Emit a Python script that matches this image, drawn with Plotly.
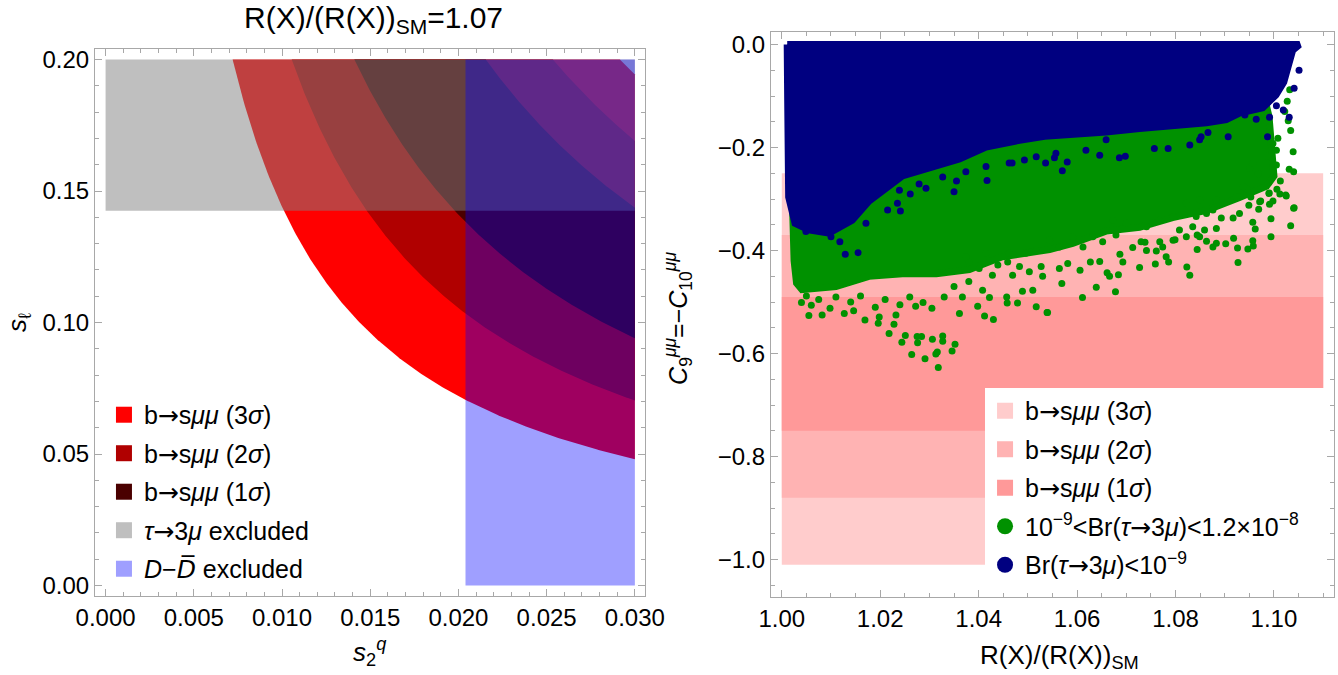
import numpy as np
import plotly.graph_objects as go

FONT = "Liberation Sans, Arial, Helvetica, sans-serif"
FRAME = "#a8a8a8"
ARROW = '<span style="font-family:DejaVu Sans">→</span>'

# ---------------- Left panel data ----------------
s2q_min, s2q_max = 0.0, 0.030
sl_min, sl_max = 0.0, 0.20
bsmm_labels = [f"b{ARROW}s<i>μμ</i> (3<i>σ</i>)", f"b{ARROW}s<i>μμ</i> (2<i>σ</i>)",
               f"b{ARROW}s<i>μμ</i> (1<i>σ</i>)"]
bsmm_prod_lo = [0.00144, 0.00211, 0.00282]      # s2q * s_l lower edge of band
bsmm_prod_hi = [0.00583, 0.00507, 0.00431]      # s2q * s_l upper edge of band
bsmm_colors = ["#ff0000", "#b00000", "#4a0000"]
tau_sl_limit = 0.1425                           # s_l above -> tau->3mu excluded
ddbar_s2q_limit = 0.0204                        # s2q above -> D-Dbar excluded
left_legend_labels = bsmm_labels + [
    f"<i>τ</i>{ARROW}3<i>μ</i> excluded",
    '<i>D</i>−<i><span style="font-family:DejaVu Sans">D\u0305</span></i> excluded']
left_legend_colors = bsmm_colors + ["#bfbfbf", "#9f9fff"]

# ---------------- Right panel data ----------------
R_min, R_max = 1.0, 1.11
c9_band_lo = [-1.01, -0.88, -0.75]
c9_band_hi = [-0.25, -0.37, -0.49]
c9_band_colors = ["#ffcccc", "#ffb3b3", "#ff9999"]

blue_poly_x = [1.0011, 1.0600, 1.1052, 1.1038, 1.1028, 1.1020, 1.1004, 1.0977, 1.0930, 1.0903,
               1.0863, 1.0794, 1.0727, 1.0659, 1.0591, 1.0534, 1.0483, 1.0415, 1.0361, 1.0327, 1.0245,
               1.0177, 1.0143, 1.0096, 1.0055, 1.0027, 1.0014, 1.0012, 1.0011]
blue_poly_y = [0.0, 0.0, 0.0, -0.011, -0.042, -0.073, -0.098, -0.123, -0.133, -0.146,
               -0.152, -0.156, -0.163, -0.170, -0.176, -0.178, -0.186, -0.199, -0.222, -0.232, -0.255,
               -0.304, -0.341, -0.366, -0.360, -0.347, -0.296, -0.108, 0.0]

green_poly_x = [1.0020, 1.0022, 1.0025, 1.0030, 1.0041, 1.0110, 1.0177, 1.0245, 1.0314, 1.0381,
                1.0448, 1.0544, 1.0591, 1.0660, 1.0727, 1.0794, 1.0863, 1.0930, 1.0985, 1.1000,
                1.0995, 1.0990, 1.0980, 1.0970, 1.0900, 1.0700, 1.0400, 1.0200, 1.0050, 1.0020]
green_poly_y = [-0.250, -0.350, -0.420, -0.463, -0.476, -0.470, -0.450, -0.445, -0.445, -0.437,
                -0.412, -0.398, -0.386, -0.362, -0.355, -0.336, -0.322, -0.297, -0.275, -0.255,
                -0.200, -0.140, -0.100, -0.090, -0.100, -0.130, -0.160, -0.220, -0.250, -0.250]

blue_pts_x = [1.0129, 1.0155, 1.0118, 1.0241, 1.0350, 1.0261, 1.0417, 1.0355, 1.0536, 1.0415,
              1.0493, 1.0468, 1.0279, 1.0239, 1.0235, 1.0327, 1.0570, 1.0554, 1.0580, 1.0646,
              1.0686, 1.0698, 1.0757, 1.0785, 1.0852, 1.0907, 1.0987, 1.1005, 1.1031, 1.1041,
              1.1051, 1.1019, 1.0991, 1.0964, 1.0941, 1.0049, 1.0079, 1.0100, 1.0171, 1.0215,
              1.0293, 1.0374, 1.0659, 1.0618, 1.0557, 1.0517, 1.0829, 1.0849, 1.0866, 1.0462]
blue_pts_y = [-0.407, -0.404, -0.383, -0.323, -0.286, -0.290, -0.264, -0.265, -0.230, -0.237,
              -0.224, -0.230, -0.271, -0.283, -0.308, -0.257, -0.245, -0.220, -0.228, -0.215,
              -0.220, -0.217, -0.202, -0.202, -0.179, -0.179, -0.179, -0.119, -0.141, -0.085,
              -0.050, -0.127, -0.141, -0.145, -0.137, -0.363, -0.360, -0.373, -0.347, -0.321,
              -0.279, -0.247, -0.185, -0.205, -0.211, -0.218, -0.195, -0.185, -0.171, -0.230]

green_pts_x = [1.0040, 1.0055, 1.0060, 1.0082, 1.0098, 1.0127, 1.0146, 1.0169, 1.0196, 1.0218,
               1.0228, 1.0244, 1.0251, 1.0264, 1.0275, 1.0284, 1.0291, 1.0306, 1.0318, 1.0313,
               1.0316, 1.0327, 1.0327, 1.0346, 1.0352, 1.0361, 1.0398, 1.0412, 1.0430, 1.0458,
               1.0479, 1.0517, 1.0539, 1.0305, 1.0287, 1.0272, 1.0232, 1.0198, 1.0422, 1.0457,
               1.0489, 1.0510, 1.0408, 1.0367, 1.0276, 1.0050, 1.0075, 1.0110, 1.0140, 1.0160,
               1.0190, 1.0210, 1.0240, 1.0260, 1.0330, 1.0350, 1.0380,
               1.0540, 1.0569, 1.0611, 1.0639, 1.0678, 1.0627, 1.0646, 1.0606, 1.0666, 1.0684,
               1.0661, 1.0727, 1.0759, 1.0823, 1.0829, 1.0844, 1.0786, 1.0781, 1.0761, 1.0741,
               1.0713, 1.0687, 1.0927, 1.0926, 1.0947, 1.0958, 1.0957, 1.0902, 1.0876, 1.0918,
               1.0994, 1.0962, 1.0957, 1.0994, 1.1034, 1.1041, 1.0991, 1.0969, 1.0973, 1.1012,
               1.1025, 1.0990, 1.0953, 1.0946, 1.0822, 1.0799, 1.0768, 1.0738, 1.0844, 1.0863,
               1.0883, 1.0917, 1.0930, 1.0893,
               1.1027, 1.1039, 1.1040, 1.1031, 1.1005, 1.1034, 1.1024, 1.1040, 1.1006, 1.1013,
               1.0990, 1.0971, 1.0998, 1.0949, 1.0968, 1.0951, 1.0998, 1.1008, 1.1029, 1.1005,
               1.0986, 1.0957, 1.1022, 1.1032, 1.0938, 1.0924,
               1.0693, 1.0581, 1.0564, 1.0530, 1.0527, 1.0503, 1.0483, 1.0469, 1.0459, 1.0439,
               1.0428, 1.0401, 1.0381, 1.0730, 1.0774, 1.0795, 1.0849, 1.0883, 1.0859, 1.0835,
               1.0808, 1.0679, 1.0652, 1.0632, 1.0612, 1.0591, 1.0564, 1.0544, 1.0517, 1.0496,
               1.0462, 1.0415, 1.0374, 1.0842, 1.0863, 1.0795, 1.0768, 1.0741, 1.0700, 1.0673,
               1.0876, 1.0883, 1.0849, 1.0822]
green_pts_y = [-0.501, -0.526, -0.506, -0.525, -0.512, -0.522, -0.517, -0.535, -0.541, -0.561,
               -0.543, -0.578, -0.565, -0.602, -0.567, -0.567, -0.610, -0.572, -0.627, -0.601,
               -0.597, -0.566, -0.576, -0.595, -0.582, -0.522, -0.508, -0.527, -0.534, -0.502,
               -0.502, -0.509, -0.520, -0.512, -0.501, -0.508, -0.525, -0.529, -0.491, -0.490,
               -0.479, -0.477, -0.477, -0.490, -0.579, -0.488, -0.495, -0.490, -0.500, -0.488,
               -0.510, -0.495, -0.505, -0.490, -0.490, -0.470, -0.460,
               -0.520, -0.464, -0.491, -0.471, -0.480, -0.422, -0.421, -0.438, -0.450, -0.447,
               -0.443, -0.433, -0.426, -0.432, -0.448, -0.398, -0.422, -0.412, -0.401, -0.400,
               -0.394, -0.407, -0.423, -0.395, -0.397, -0.391, -0.381, -0.387, -0.393, -0.376,
               -0.373, -0.358, -0.345, -0.338, -0.352, -0.317, -0.310, -0.320, -0.304, -0.290,
               -0.294, -0.289, -0.296, -0.281, -0.373, -0.379, -0.383, -0.384, -0.370, -0.382,
               -0.386, -0.337, -0.328, -0.337,
               -0.110, -0.208, -0.247, -0.242, -0.234, -0.167, -0.292, -0.318, -0.281, -0.265,
               -0.288, -0.305, -0.304, -0.312, -0.251, -0.240, -0.192, -0.182, -0.148, -0.205,
               -0.217, -0.231, -0.130, -0.088, -0.276, -0.296,
               -0.422, -0.425, -0.435, -0.450, -0.431, -0.441, -0.431, -0.448, -0.422, -0.428,
               -0.448, -0.435, -0.422, -0.383, -0.393, -0.380, -0.373, -0.357, -0.360, -0.354,
               -0.360, -0.370, -0.383, -0.373, -0.393, -0.373, -0.393, -0.380, -0.399, -0.405,
               -0.405, -0.405, -0.412, -0.334, -0.328, -0.334, -0.341, -0.354, -0.347, -0.341,
               -0.321, -0.302, -0.302, -0.308]

right_legend_labels = bsmm_labels + [
    f"10<sup>−9</sup>&lt;Br(<i>τ</i>{ARROW}3<i>μ</i>)&lt;1.2×10<sup>−8</sup>",
    f"Br(<i>τ</i>{ARROW}3<i>μ</i>)&lt;10<sup>−9</sup>"]
GREEN = "#009100"
NAVY = "#000080"

fig = go.Figure()

# ---------- left panel ----------
def band_polygon(c_lo, c_hi):
    xa = np.linspace(c_lo / sl_max, s2q_max, 300)
    xs = list(xa); ys = list(c_lo / xa)
    if c_hi / s2q_max < sl_max:
        xb = np.linspace(s2q_max, c_hi / sl_max, 300)
        xs += list(xb); ys += list(c_hi / xb)
    else:
        xs.append(s2q_max); ys.append(sl_max)
    xs.append(c_lo / sl_max); ys.append(sl_max)
    return xs, ys

for lo, hi, col in zip(bsmm_prod_lo, bsmm_prod_hi, bsmm_colors):
    bx, by = band_polygon(lo, hi)
    fig.add_trace(go.Scatter(x=bx, y=by, mode="lines", fill="toself", fillcolor=col,
                             line=dict(width=0), hoverinfo="skip", showlegend=False,
                             xaxis="x", yaxis="y"))

fig.add_trace(go.Scatter(x=[s2q_min, s2q_max, s2q_max, s2q_min, s2q_min],
                         y=[tau_sl_limit, tau_sl_limit, sl_max, sl_max, tau_sl_limit],
                         mode="lines", fill="toself", fillcolor="rgba(128,128,128,0.5)",
                         line=dict(width=0), showlegend=False, xaxis="x", yaxis="y"))
fig.add_trace(go.Scatter(x=[ddbar_s2q_limit, s2q_max, s2q_max, ddbar_s2q_limit, ddbar_s2q_limit],
                         y=[sl_min, sl_min, sl_max, sl_max, sl_min],
                         mode="lines", fill="toself", fillcolor="rgba(0,0,255,0.375)",
                         line=dict(width=0), showlegend=False, xaxis="x", yaxis="y"))

for i, (lab, col) in enumerate(zip(left_legend_labels, left_legend_colors)):
    fig.add_trace(go.Scatter(x=[None], y=[None], mode="markers", name=lab,
                             marker=dict(symbol="square", size=18, color=col),
                             legend="legend", legendgroup=f"L{i}", xaxis="x", yaxis="y"))

# ---------- right panel ----------
for lo, hi, col in zip(c9_band_lo, c9_band_hi, c9_band_colors):
    fig.add_trace(go.Scatter(x=[R_min, R_max, R_max, R_min, R_min], y=[lo, lo, hi, hi, lo],
                             mode="lines", fill="toself", fillcolor=col, line=dict(width=0),
                             showlegend=False, xaxis="x2", yaxis="y2"))

fig.add_trace(go.Scatter(x=green_poly_x + green_poly_x[:1], y=green_poly_y + green_poly_y[:1],
                         mode="lines", fill="toself", fillcolor=GREEN,
                         line=dict(width=7, color=GREEN), showlegend=False, xaxis="x2", yaxis="y2"))
fig.add_trace(go.Scatter(x=green_pts_x, y=green_pts_y, mode="markers",
                         marker=dict(size=7, color=GREEN), showlegend=False, xaxis="x2", yaxis="y2"))
fig.add_trace(go.Scatter(x=blue_poly_x, y=blue_poly_y, mode="lines", fill="toself", fillcolor=NAVY,
                         line=dict(width=7, color=NAVY), showlegend=False, xaxis="x2", yaxis="y2"))
fig.add_trace(go.Scatter(x=blue_pts_x, y=blue_pts_y, mode="markers",
                         marker=dict(size=7, color=NAVY), showlegend=False, xaxis="x2", yaxis="y2"))

right_legend_styles = [("square", 18, c) for c in c9_band_colors] + [("circle", 16, GREEN), ("circle", 16, NAVY)]
for i, (lab, (sym, sz, col)) in enumerate(zip(right_legend_labels, right_legend_styles)):
    fig.add_trace(go.Scatter(x=[None], y=[None], mode="markers", name=lab,
                             marker=dict(symbol=sym, size=sz, color=col),
                             legend="legend2", legendgroup=f"R{i}", xaxis="x2", yaxis="y2"))

tickfont = dict(family=FONT, size=24, color="black")
def frame_axis(**kw):
    d = dict(showline=True, linecolor=FRAME, linewidth=1, mirror="allticks", ticks="inside",
             ticklen=7, tickcolor=FRAME, tickwidth=1, showgrid=False, zeroline=False,
             tickfont=tickfont, automargin=False)
    d.update(kw)
    return d

fig.update_layout(
    width=1338, height=675, margin=dict(l=0, r=0, t=0, b=0, autoexpand=False),
    paper_bgcolor="white", plot_bgcolor="white", showlegend=True,
    xaxis=frame_axis(domain=[0.0710, 0.4824], range=[-0.0006, 0.0306], tick0=0, dtick=0.005,
                     tickformat=".3f", anchor="y",
                     minor=dict(ticks="inside", ticklen=4, dtick=0.001, tickcolor=FRAME)),
    yaxis=frame_axis(domain=[0.1170, 0.9274], range=[-0.004, 0.204], tick0=0, dtick=0.05,
                     tickformat=".2f", anchor="x",
                     minor=dict(ticks="inside", ticklen=4, dtick=0.01, tickcolor=FRAME)),
    xaxis2=frame_axis(domain=[0.5762, 0.9970], range=[0.9978, 1.1122], tick0=1.0, dtick=0.02,
                      tickformat=".2f", anchor="y2",
                      minor=dict(ticks="inside", ticklen=4, dtick=0.005, tickcolor=FRAME)),
    yaxis2=frame_axis(domain=[0.1160, 0.9521], range=[-1.072, 0.0237], tick0=0, dtick=0.2,
                      tickformat=".1f", anchor="x2",
                      minor=dict(ticks="inside", ticklen=4, dtick=0.05, tickcolor=FRAME)),
    legend=dict(x=0.0777, y=0.4193, xanchor="left", yanchor="top", bgcolor="rgba(0,0,0,0)",
                font=dict(family=FONT, size=25, color="black"), tracegroupgap=3,
                itemclick=False),
    legend2=dict(x=0.7362, y=0.4252, xanchor="left", yanchor="top", bgcolor="white",
                 font=dict(family=FONT, size=25, color="black"), tracegroupgap=3,
                 itemclick=False),
    # white backing of the right legend box (as in the reference, it spans the full band width)
    shapes=[dict(type="rect", xref="paper", yref="paper", x0=985 / 1338, x1=1326 / 1338,
                 y0=1 - 586 / 675, y1=1 - 388 / 675, fillcolor="white",
                 line=dict(width=0), layer="above")],
    annotations=[
        dict(text="R(X)/(R(X))<sub>SM</sub>=1.07", x=0.2788, y=0.9704, xref="paper", yref="paper",
             showarrow=False, xanchor="center", yanchor="middle", font=dict(family=FONT, size=30, color="black")),
        dict(text="<i>s</i><sub>2</sub><sup><i>q</i></sup>", x=0.2765, y=0.0341, xref="paper", yref="paper",
             showarrow=False, xanchor="center", yanchor="middle", font=dict(family=FONT, size=26, color="black")),
        dict(text="<i>s</i><sub>ℓ</sub>", x=0.0142, y=0.523, xref="paper", yref="paper", textangle=-90,
             showarrow=False, xanchor="center", yanchor="middle", font=dict(family=FONT, size=26, color="black")),
        dict(text="<i>C</i><sub>9</sub><sup><i>μμ</i></sup>=−<i>C</i><sub>10</sub><sup><i>μμ</i></sup>",
             x=0.5067, y=0.529, xref="paper", yref="paper", textangle=-90,
             showarrow=False, xanchor="center", yanchor="middle", font=dict(family=FONT, size=25, color="black")),
        dict(text="R(X)/(R(X))<sub>SM</sub>", x=0.7920, y=0.0275, xref="paper", yref="paper",
             showarrow=False, xanchor="center", yanchor="middle", font=dict(family=FONT, size=26, color="black")),
    ],
)

fig.write_html("out.html", config={"displayModeBar": False},
               post_script="document.body.style.margin='0px';")
